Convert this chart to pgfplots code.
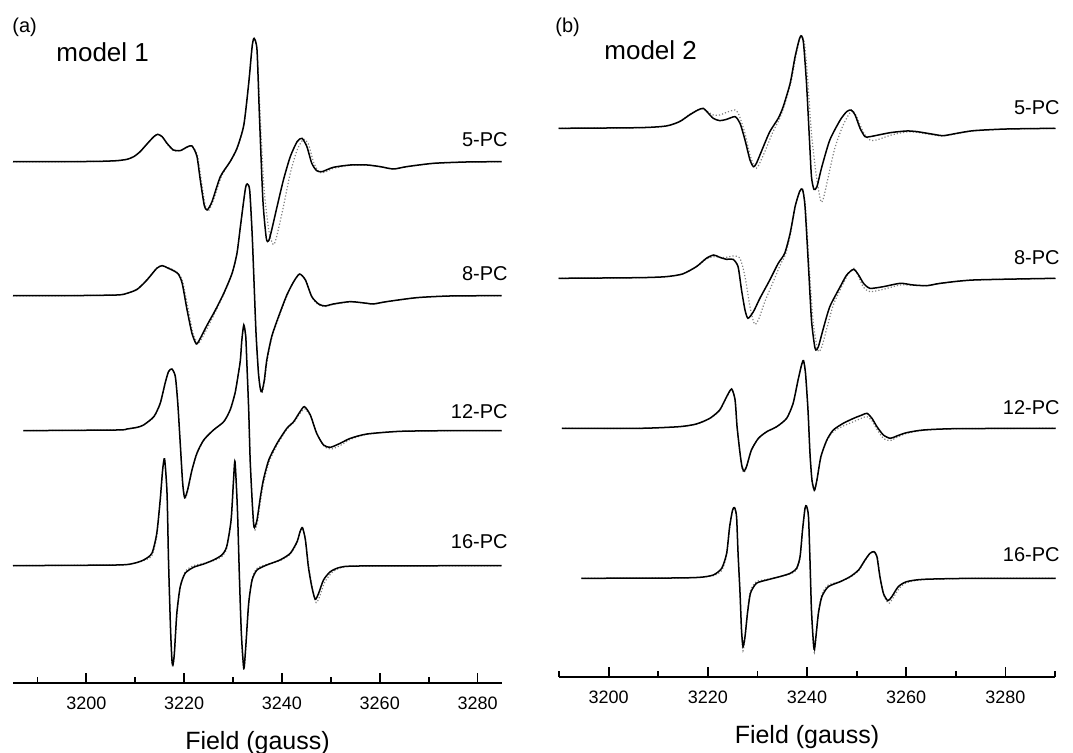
\documentclass[border=0pt]{standalone}
\usepackage{fontspec}
\setmainfont{Liberation Sans}
\usepackage{pgfplots}
\pgfplotsset{compat=1.18}

% y values are screen rows (x3) below the top of each panel, x in gauss
\pgfplotsset{
  eprpanel/.style={
    scale only axis, clip=false,
    axis x line=bottom, axis y line=none,
    every outer x axis line/.append style={-},
    x axis line style={-, line width=1pt},
    ymax=0,
    xtick={3200,3220,3240,3260,3280},
    tick align=inside,
    major tick length=5pt, minor tick length=3pt,
    tick style={black, line width=0.9pt},
    xticklabel style={font=\fontsize{9}{10}\selectfont, anchor=base, yshift=-13.5pt},
    /pgf/number format/1000 sep={},
    /pgf/number format/assume math mode=true,
    xlabel={Field (gauss)},
    xlabel style={font=\fontsize{12.5}{14}\selectfont, at={(axis description cs:0.5,0)}, anchor=base, yshift=-33.5pt},
  },
  fit/.style={gray, densely dotted, line width=0.6pt, smooth, tension=0.4},
  expt/.style={black, line width=0.75pt, smooth, tension=0.4},
}

\begin{document}
\begin{tikzpicture}[x=0.5pt,y=0.5pt]
\path[use as bounding box] (0,0) rectangle (1073,753);

% ---------------- (a) model 1 ----------------
\begin{axis}[eprpanel, at={(6.5pt,35pt)}, anchor=south west,
  width=244.5pt, height=341.5pt,
  xmin=3185, xmax=3285, ymin=-2049,
  minor xtick={3190,3210,3230,3250,3270}]

% 5-PC
\addplot[fit] coordinates {(3185.0,-485) (3196.0,-485) (3202.9,-484) (3206.3,-482) (3208.3,-478) (3209.7,-470) (3211.0,-455) (3212.4,-432) (3213.8,-410) (3214.6,-403) (3215.5,-410) (3216.5,-432) (3217.8,-452) (3219.2,-453) (3220.6,-442) (3221.6,-438) (3222.7,-465) (3223.5,-540) (3224.3,-615) (3225.0,-632) (3226.0,-600) (3227.6,-530) (3229.4,-485) (3230.8,-447) (3232.2,-378) (3233.2,-252) (3233.9,-140) (3234.3,-115) (3234.9,-150) (3235.5,-330) (3236.3,-560) (3237.3,-690) (3238.0,-728) (3238.4,-733) (3239.0,-705) (3240.3,-620) (3241.7,-520) (3243.1,-450) (3244.4,-418) (3245.4,-432) (3246.5,-488) (3247.6,-517) (3248.7,-517) (3250.5,-505) (3254.0,-496) (3257.4,-495) (3260.1,-500) (3262.8,-507) (3265.5,-500) (3271.0,-490) (3277.8,-486) (3284.9,-485)};
\addplot[expt] coordinates {(3185.0,-485) (3196.0,-485) (3202.9,-484) (3206.3,-482) (3208.3,-478) (3209.7,-470) (3211.0,-455) (3212.4,-432) (3213.8,-410) (3214.6,-403) (3215.5,-410) (3216.5,-430) (3217.8,-450) (3219.2,-452) (3220.6,-441) (3221.6,-438) (3222.6,-468) (3223.3,-540) (3224.1,-615) (3224.7,-630) (3225.7,-605) (3227.4,-530) (3229.4,-485) (3230.8,-445) (3232.2,-375) (3233.2,-250) (3233.9,-140) (3234.3,-115) (3234.9,-150) (3235.4,-350) (3236.1,-600) (3236.8,-715) (3237.3,-722) (3237.9,-690) (3239.0,-620) (3240.3,-540) (3241.7,-470) (3243.1,-425) (3244.1,-415) (3245.1,-440) (3246.1,-490) (3247.1,-512) (3248.2,-515) (3250.5,-502) (3254.0,-495) (3257.4,-495) (3260.1,-500) (3262.8,-507) (3265.5,-500) (3271.0,-490) (3277.8,-486) (3284.9,-485)};

% 8-PC
\addplot[fit] coordinates {(3185.0,-887) (3196.0,-887) (3206.3,-885) (3208.3,-880) (3210.4,-867) (3212.4,-838) (3214.4,-804) (3215.5,-797) (3216.5,-801) (3217.8,-810) (3218.8,-820) (3219.7,-845) (3220.8,-925) (3221.8,-1000) (3222.8,-1030) (3223.5,-1018) (3224.9,-980) (3226.4,-935) (3228.1,-883) (3229.8,-822) (3230.8,-762) (3231.5,-682) (3232.2,-600) (3232.6,-560) (3232.9,-552) (3233.4,-572) (3233.9,-700) (3234.3,-850) (3234.7,-1000) (3235.2,-1120) (3235.6,-1168) (3236.0,-1177) (3236.5,-1140) (3237.0,-1080) (3238.0,-1010) (3239.4,-950) (3241.1,-885) (3242.4,-845) (3243.7,-823) (3244.9,-842) (3246.2,-893) (3247.5,-915) (3248.8,-920) (3250.5,-913) (3254.0,-906) (3257.4,-910) (3258.7,-912) (3261.4,-905) (3267.6,-893) (3274.4,-888) (3284.9,-887)};
\addplot[expt] coordinates {(3185.0,-887) (3196.0,-887) (3206.3,-885) (3208.3,-880) (3210.4,-868) (3212.4,-840) (3214.4,-805) (3215.5,-797) (3216.5,-803) (3217.8,-812) (3218.8,-822) (3219.6,-850) (3220.6,-930) (3221.6,-1000) (3222.5,-1032) (3223.3,-1015) (3224.7,-975) (3226.4,-930) (3228.1,-880) (3229.8,-820) (3230.8,-760) (3231.5,-680) (3232.2,-600) (3232.6,-560) (3232.9,-552) (3233.4,-570) (3233.9,-700) (3234.3,-850) (3234.7,-1000) (3235.2,-1120) (3235.6,-1168) (3235.9,-1175) (3236.4,-1140) (3236.9,-1080) (3237.9,-1010) (3239.3,-950) (3241.0,-885) (3242.4,-845) (3243.6,-822) (3244.8,-840) (3246.1,-890) (3247.5,-912) (3248.8,-918) (3250.5,-912) (3254.0,-905) (3257.4,-910) (3258.7,-912) (3261.4,-905) (3267.6,-893) (3274.4,-888) (3284.9,-887)};

% 12-PC
\addplot[fit] coordinates {(3187.1,-1292) (3206.3,-1290) (3208.3,-1287) (3210.4,-1282) (3211.7,-1275) (3213.8,-1252) (3215.1,-1212) (3216.1,-1152) (3216.8,-1115) (3217.5,-1108) (3218.2,-1132) (3218.7,-1212) (3219.2,-1330) (3219.7,-1448) (3220.2,-1495) (3220.8,-1470) (3221.6,-1412) (3222.6,-1362) (3224.0,-1322) (3226.0,-1290) (3228.1,-1266) (3229.4,-1232) (3230.4,-1182) (3231.1,-1122) (3231.5,-1080) (3231.8,-1020) (3232.2,-975) (3232.6,-1010) (3232.8,-1080) (3233.2,-1230) (3233.5,-1380) (3233.9,-1505) (3234.2,-1575) (3234.5,-1590) (3235.0,-1565) (3235.7,-1495) (3236.3,-1445) (3237.4,-1385) (3239.0,-1335) (3241.0,-1288) (3242.4,-1268) (3243.7,-1240) (3244.7,-1227) (3245.9,-1250) (3247.3,-1305) (3248.7,-1340) (3250.2,-1347) (3252.1,-1335) (3254.0,-1318) (3257.4,-1303) (3264.2,-1294) (3274.4,-1292) (3284.9,-1292)};
\addplot[expt] coordinates {(3187.1,-1292) (3206.3,-1290) (3208.3,-1287) (3210.4,-1282) (3211.7,-1275) (3213.8,-1250) (3215.1,-1210) (3216.1,-1150) (3216.8,-1115) (3217.5,-1107) (3218.2,-1130) (3218.7,-1210) (3219.2,-1330) (3219.7,-1450) (3220.1,-1493) (3220.7,-1470) (3221.6,-1410) (3222.6,-1360) (3224.0,-1320) (3226.0,-1290) (3228.1,-1265) (3229.4,-1230) (3230.4,-1180) (3231.1,-1120) (3231.5,-1080) (3231.8,-1020) (3232.2,-975) (3232.6,-1010) (3232.8,-1080) (3233.2,-1230) (3233.5,-1380) (3233.9,-1500) (3234.2,-1570) (3234.4,-1583) (3234.9,-1560) (3235.6,-1490) (3236.2,-1440) (3237.3,-1380) (3239.0,-1330) (3241.0,-1285) (3242.4,-1265) (3243.7,-1235) (3244.6,-1220) (3245.8,-1245) (3247.1,-1300) (3248.5,-1335) (3249.9,-1342) (3251.9,-1330) (3254.0,-1315) (3257.4,-1302) (3264.2,-1294) (3274.4,-1292) (3284.9,-1292)};

% 16-PC
\addplot[fit] coordinates {(3185.0,-1697) (3206.3,-1695) (3209.7,-1690) (3211.7,-1682) (3213.4,-1667) (3214.4,-1610) (3215.1,-1505) (3215.6,-1412) (3216.0,-1378) (3216.5,-1480) (3216.8,-1680) (3217.2,-1880) (3217.5,-1985) (3217.7,-2000) (3218.0,-1965) (3218.5,-1850) (3219.2,-1765) (3220.2,-1715) (3221.9,-1697) (3224.0,-1690) (3226.0,-1682) (3227.7,-1670) (3228.7,-1645) (3229.6,-1565) (3230.1,-1442) (3230.4,-1385) (3230.9,-1530) (3231.3,-1730) (3231.7,-1905) (3232.2,-2010) (3232.6,-1945) (3233.2,-1805) (3233.9,-1735) (3234.9,-1705) (3236.9,-1693) (3239.6,-1682) (3241.7,-1663) (3243.1,-1628) (3243.7,-1597) (3244.2,-1585) (3244.8,-1618) (3245.5,-1700) (3246.3,-1770) (3247.0,-1808) (3247.7,-1790) (3248.7,-1748) (3250.2,-1718) (3252.1,-1703) (3256.0,-1698) (3284.9,-1697)};
\addplot[expt] coordinates {(3185.0,-1697) (3206.3,-1695) (3209.7,-1690) (3211.7,-1680) (3213.4,-1660) (3214.4,-1600) (3215.1,-1500) (3215.6,-1410) (3216.0,-1377) (3216.5,-1480) (3216.8,-1680) (3217.2,-1880) (3217.5,-1980) (3217.7,-1995) (3218.0,-1960) (3218.5,-1840) (3219.2,-1760) (3220.2,-1720) (3221.9,-1702) (3224.0,-1692) (3226.0,-1680) (3227.7,-1665) (3228.7,-1640) (3229.6,-1560) (3230.1,-1440) (3230.4,-1385) (3230.9,-1530) (3231.3,-1730) (3231.7,-1900) (3232.2,-2005) (3232.6,-1940) (3233.2,-1810) (3233.9,-1740) (3234.9,-1710) (3236.9,-1695) (3239.6,-1680) (3241.7,-1660) (3243.1,-1625) (3243.7,-1595) (3244.2,-1583) (3244.8,-1620) (3245.4,-1700) (3246.1,-1760) (3246.8,-1798) (3247.5,-1780) (3248.5,-1740) (3249.9,-1715) (3251.9,-1702) (3256.0,-1698) (3284.9,-1697)};
\end{axis}

% ---------------- (b) model 2 ----------------
\begin{axis}[eprpanel, at={(279.5pt,38pt)}, anchor=south west,
  width=248pt, height=338.5pt,
  xmin=3190, xmax=3290, ymin=-2031,
  minor xtick={3190,3210,3230,3250,3270,3290}]

% 5-PC
\addplot[fit] coordinates {(3189.9,-385) (3206.3,-383) (3211.6,-378) (3214.3,-364) (3216.3,-343) (3218.0,-330) (3219.1,-327) (3220.0,-335) (3221.1,-345) (3222.4,-345) (3223.8,-337) (3225.5,-330) (3226.3,-345) (3227.5,-400) (3228.5,-465) (3229.5,-503) (3230.1,-500) (3231.5,-455) (3233.0,-400) (3234.5,-355) (3235.4,-318) (3236.8,-245) (3237.8,-165) (3238.6,-112) (3238.9,-108) (3239.5,-130) (3240.1,-230) (3240.9,-400) (3241.9,-530) (3242.8,-605) (3243.4,-590) (3244.3,-530) (3245.6,-445) (3247.3,-375) (3249.0,-332) (3250.0,-350) (3251.4,-398) (3252.7,-420) (3254.0,-420) (3257.0,-405) (3260.1,-396) (3262.2,-397) (3265.5,-405) (3267.5,-408) (3270.2,-401) (3273.6,-393) (3280.3,-387) (3290.1,-385)};
\addplot[expt] coordinates {(3189.9,-385) (3206.3,-383) (3211.6,-378) (3214.3,-365) (3216.3,-345) (3218.0,-330) (3219.1,-325) (3220.0,-338) (3221.1,-355) (3222.4,-362) (3223.8,-358) (3225.5,-350) (3226.5,-370) (3227.5,-420) (3228.5,-480) (3229.2,-500) (3229.8,-490) (3231.2,-440) (3232.5,-395) (3234.2,-355) (3235.2,-320) (3236.6,-250) (3237.6,-170) (3238.5,-115) (3238.9,-108) (3239.3,-130) (3239.9,-250) (3240.5,-420) (3240.9,-530) (3241.4,-568) (3242.0,-560) (3243.0,-500) (3244.6,-420) (3246.7,-360) (3248.0,-335) (3248.9,-330) (3249.7,-345) (3250.7,-385) (3251.7,-410) (3252.7,-410) (3256.8,-398) (3260.1,-393) (3262.2,-395) (3265.5,-403) (3267.5,-407) (3270.2,-400) (3273.6,-392) (3280.3,-387) (3290.1,-385)};

% 8-PC
\addplot[fit] coordinates {(3189.9,-835) (3206.3,-833) (3211.6,-830) (3214.9,-822) (3217.7,-800) (3219.7,-777) (3221.2,-770) (3222.4,-772) (3223.8,-772) (3225.1,-768) (3226.5,-775) (3227.5,-830) (3228.5,-920) (3229.4,-972) (3230.2,-960) (3231.5,-905) (3233.2,-845) (3234.6,-795) (3235.7,-762) (3236.7,-700) (3237.7,-615) (3238.6,-572) (3239.1,-568) (3239.7,-620) (3240.4,-790) (3241.2,-960) (3242.0,-1040) (3242.4,-1055) (3243.0,-1040) (3244.0,-985) (3245.3,-915) (3247.0,-860) (3248.3,-822) (3249.5,-805) (3250.4,-830) (3251.4,-862) (3252.7,-875) (3255.4,-868) (3258.8,-855) (3261.4,-856) (3264.2,-857) (3266.9,-850) (3273.6,-840) (3290.1,-835)};
\addplot[expt] coordinates {(3189.9,-835) (3206.3,-833) (3211.6,-830) (3214.9,-822) (3217.7,-800) (3219.7,-775) (3221.2,-765) (3222.4,-772) (3223.8,-778) (3225.1,-778) (3226.1,-800) (3226.8,-870) (3227.5,-930) (3228.1,-955) (3229.2,-935) (3230.5,-895) (3232.5,-840) (3234.2,-790) (3235.5,-760) (3236.6,-700) (3237.6,-620) (3238.5,-575) (3239.1,-568) (3239.6,-620) (3240.3,-800) (3240.9,-960) (3241.5,-1035) (3241.8,-1050) (3242.3,-1040) (3243.3,-985) (3244.6,-920) (3246.7,-860) (3248.0,-825) (3249.4,-808) (3250.4,-825) (3251.4,-850) (3252.7,-865) (3255.4,-860) (3258.8,-850) (3261.4,-855) (3264.2,-857) (3266.9,-850) (3273.6,-840) (3290.1,-835)};

% 12-PC
\addplot[fit] coordinates {(3190.6,-1285) (3206.3,-1285) (3214.3,-1280) (3217.7,-1272) (3220.4,-1256) (3222.4,-1232) (3223.8,-1192) (3224.8,-1168) (3225.5,-1200) (3225.9,-1280) (3226.5,-1362) (3226.9,-1405) (3227.3,-1418) (3227.8,-1402) (3228.8,-1350) (3230.2,-1315) (3231.9,-1295) (3233.9,-1280) (3235.9,-1255) (3237.2,-1210) (3238.2,-1140) (3238.9,-1095) (3239.3,-1082) (3239.7,-1120) (3240.2,-1230) (3240.6,-1360) (3241.0,-1442) (3241.5,-1475) (3242.0,-1442) (3242.8,-1372) (3244.0,-1322) (3245.3,-1295) (3247.3,-1278) (3249.4,-1265) (3251.1,-1254) (3252.1,-1250) (3253.1,-1262) (3254.1,-1288) (3255.4,-1315) (3256.8,-1322) (3258.1,-1312) (3260.1,-1300) (3263.5,-1291) (3270.2,-1286) (3290.1,-1285)};
\addplot[expt] coordinates {(3190.6,-1285) (3206.3,-1285) (3214.3,-1280) (3217.7,-1272) (3220.4,-1255) (3222.4,-1230) (3223.8,-1190) (3224.8,-1167) (3225.5,-1200) (3225.9,-1280) (3226.5,-1360) (3226.9,-1400) (3227.3,-1413) (3227.8,-1400) (3228.8,-1350) (3230.2,-1315) (3231.9,-1295) (3233.9,-1280) (3235.9,-1255) (3237.2,-1210) (3238.2,-1140) (3238.9,-1095) (3239.3,-1082) (3239.7,-1120) (3240.2,-1230) (3240.6,-1360) (3241.0,-1440) (3241.5,-1470) (3242.0,-1440) (3242.8,-1370) (3244.0,-1320) (3245.3,-1290) (3247.3,-1270) (3249.4,-1255) (3251.1,-1245) (3252.1,-1240) (3253.1,-1255) (3254.1,-1280) (3255.4,-1305) (3256.8,-1315) (3258.1,-1308) (3260.1,-1298) (3263.5,-1290) (3270.2,-1286) (3290.1,-1285)};

% 16-PC
\addplot[fit] coordinates {(3194.5,-1735) (3213.0,-1734) (3218.4,-1732) (3221.1,-1727) (3222.8,-1712) (3223.8,-1665) (3224.4,-1585) (3225.0,-1532) (3225.4,-1525) (3225.8,-1552) (3226.1,-1660) (3226.5,-1785) (3226.8,-1900) (3227.1,-1952) (3227.5,-1915) (3228.0,-1835) (3228.6,-1772) (3229.8,-1745) (3231.9,-1738) (3234.5,-1730) (3236.6,-1722) (3237.9,-1710) (3238.6,-1675) (3239.1,-1592) (3239.6,-1525) (3239.9,-1518) (3240.3,-1550) (3240.6,-1680) (3240.9,-1835) (3241.3,-1940) (3241.5,-1958) (3241.8,-1915) (3242.3,-1835) (3243.0,-1782) (3244.3,-1755) (3246.7,-1745) (3248.7,-1732) (3250.4,-1712) (3251.7,-1682) (3252.7,-1660) (3253.6,-1655) (3254.2,-1672) (3254.8,-1735) (3255.6,-1790) (3256.5,-1810) (3257.3,-1795) (3258.6,-1765) (3260.1,-1748) (3263.5,-1739) (3273.6,-1735) (3290.1,-1735)};
\addplot[expt] coordinates {(3194.5,-1735) (3213.0,-1734) (3218.4,-1732) (3221.1,-1725) (3222.8,-1705) (3223.8,-1660) (3224.4,-1580) (3225.0,-1530) (3225.4,-1523) (3225.8,-1550) (3226.1,-1660) (3226.5,-1780) (3226.8,-1890) (3227.1,-1940) (3227.5,-1910) (3228.0,-1840) (3228.6,-1780) (3229.8,-1750) (3231.9,-1740) (3234.5,-1730) (3236.6,-1720) (3237.9,-1705) (3238.6,-1670) (3239.1,-1590) (3239.6,-1525) (3239.9,-1518) (3240.3,-1550) (3240.6,-1680) (3240.9,-1830) (3241.3,-1930) (3241.5,-1948) (3241.8,-1910) (3242.3,-1840) (3243.0,-1790) (3244.3,-1760) (3246.7,-1745) (3248.7,-1730) (3250.4,-1710) (3251.7,-1680) (3252.7,-1660) (3253.5,-1655) (3254.1,-1670) (3254.7,-1730) (3255.4,-1780) (3256.3,-1802) (3257.1,-1790) (3258.4,-1760) (3260.1,-1745) (3263.5,-1738) (3273.6,-1735) (3290.1,-1735)};
\end{axis}

% panel letters, model names and trace labels
\begin{scope}[every node/.style={inner sep=0pt}]
\node[anchor=west, font=\fontsize{10}{12}\selectfont] at (12,726) {(a)};
\node[anchor=base west, font=\fontsize{13}{15}\selectfont] at (56,691) {model 1};
\node[anchor=west, font=\fontsize{10}{12}\selectfont] at (555,726) {(b)};
\node[anchor=base west, font=\fontsize{13}{15}\selectfont] at (604,693) {model 2};
\foreach \lab/\yy in {5-PC/613, 8-PC/479, 12-PC/341, 16-PC/211}
  \node[anchor=east, font=\fontsize{10}{12}\selectfont] at (508,\yy) {\lab};
\foreach \lab/\yy in {5-PC/645, 8-PC/495, 12-PC/345, 16-PC/198}
  \node[anchor=east, font=\fontsize{10}{12}\selectfont] at (1060,\yy) {\lab};
\end{scope}
\end{tikzpicture}
\end{document}
